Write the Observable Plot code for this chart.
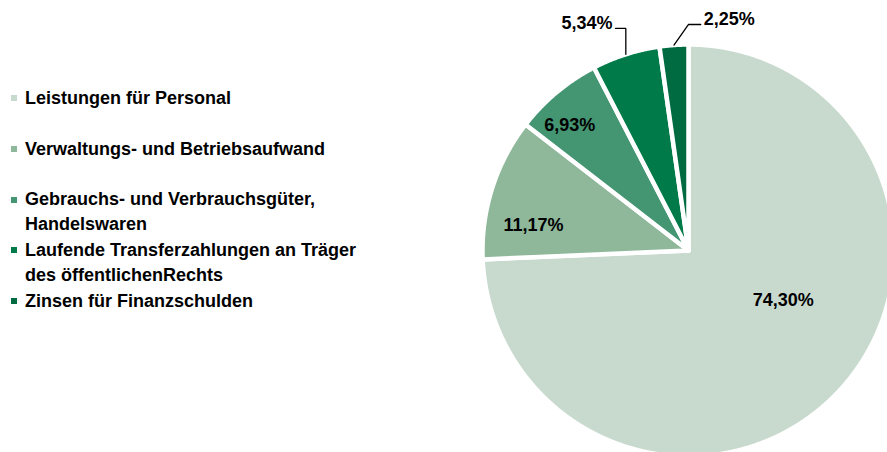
<!DOCTYPE html>
<html><head><meta charset="utf-8">
<script src="https://cdn.jsdelivr.net/npm/d3@7"></script>
<script src="https://cdn.jsdelivr.net/npm/@observablehq/plot@0.6"></script>
<style>
html,body{margin:0;padding:0;background:#fff;}
#wrap{position:relative;width:887px;height:452px;overflow:hidden;}
#legend{position:absolute;left:0;top:0;font-family:"Liberation Sans",Arial,sans-serif;font-weight:bold;font-size:18px;color:#000;}
.item{position:absolute;left:25px;line-height:25px;white-space:pre;}
.sw{position:absolute;left:-14px;width:6px;height:6px;}
</style></head><body><div id="wrap"><div id="chart"></div><div id="legend"></div></div>
<script>
const categories = [
  "Leistungen für Personal",
  "Verwaltungs- und Betriebsaufwand",
  "Gebrauchs- und Verbrauchsgüter,\nHandelswaren",
  "Laufende Transferzahlungen an Träger\ndes öffentlichenRechts",
  "Zinsen für Finanzschulden"
];
const values = [74.30, 11.17, 6.93, 5.34, 2.25];
const valueLabels = ["74,30%", "11,17%", "6,93%", "5,34%", "2,25%"];
const colors = ["#c8dace", "#8fb89b", "#449572", "#007a48", "#006b40"];

// layout (not data)
const cx = 688, cy = 250, R = 206;
const inside = [{da:-16, r:0.52}, {da:-8.5, r:0.762}, {da:-3.7, r:0.838}];
const deg = Math.PI/180;

const arcs = d3.pie().sort(null).value(d => d)(values);
const marks = [];
arcs.forEach((s, i) => {
  const n = Math.max(4, Math.ceil((s.endAngle - s.startAngle) / 0.004));
  const pts = [{x:0, y:0}];
  for (let k = 0; k <= n; k++) {
    const a = s.startAngle + (s.endAngle - s.startAngle) * k / n;
    pts.push({x: Math.sin(a), y: Math.cos(a)});
  }
  pts.push({x:0, y:0});
  marks.push(Plot.line(pts, {x:"x", y:"y", fill: colors[i], stroke:"white", strokeWidth:4.5, strokeLinejoin:"miter", strokeMiterlimit:4}));
});

const mid = s => (s.startAngle + s.endAngle) / 2;
const textStyle = {fontSize:18, fontWeight:"bold", fontFamily:"Liberation Sans, Arial, sans-serif", fill:"#000", text:"t"};
const inLabels = inside.map((p, i) => {
  const a = mid(arcs[i]) + p.da * deg;
  return {x: p.r * Math.sin(a), y: p.r * Math.cos(a), t: valueLabels[i]};
});
marks.push(Plot.text(inLabels, {x:"x", y:"y", ...textStyle}));

// leader for 5,34%
const a3 = mid(arcs[3]);
const s3 = {x: Math.sin(a3), y: Math.cos(a3)};
const l3 = [s3, {x: s3.x, y: 1.078}, {x: s3.x - 0.05, y: 1.078}];
// leader for 2,25%
const a4 = mid(arcs[4]);
const s4 = {x: Math.sin(a4), y: Math.cos(a4)};
const l4 = [s4, {x: s4.x + 0.07, y: 1.097}, {x: s4.x + 0.13, y: 1.097}];
marks.push(Plot.line(l3, {x:"x", y:"y", stroke:"#000", strokeWidth:1.3, strokeLinejoin:"miter"}));
marks.push(Plot.line(l4, {x:"x", y:"y", stroke:"#000", strokeWidth:1.3, strokeLinejoin:"miter"}));
marks.push(Plot.text([{...l3[2], t: valueLabels[3]}], {x:"x", y:"y", ...textStyle, textAnchor:"end", dx:-3, dy:-5}));
marks.push(Plot.text([{...l4[2], t: valueLabels[4]}], {x:"x", y:"y", ...textStyle, textAnchor:"start", dx:3, dy:-5}));

const chart = Plot.plot({
  width: 887, height: 452,
  margin: 0,
  x: {domain:[-1, 1], range:[cx - R, cx + R], axis: null},
  y: {domain:[-1, 1], range:[cy + R, cy - R], axis: null},
  style: {background:"transparent", overflow:"visible"},
  marks
});
document.getElementById("chart").appendChild(chart);

const legend = document.getElementById("legend");
categories.forEach((c, i) => {
  const base = 104.5 + 50.75 * i;
  const div = document.createElement("div");
  div.className = "item";
  div.style.top = (base - 18.75) + "px";
  div.textContent = c;
  const sw = document.createElement("span");
  sw.className = "sw";
  sw.style.top = "9.25px";
  sw.style.background = colors[i];
  div.appendChild(sw);
  legend.appendChild(div);
});
</script></body></html>
